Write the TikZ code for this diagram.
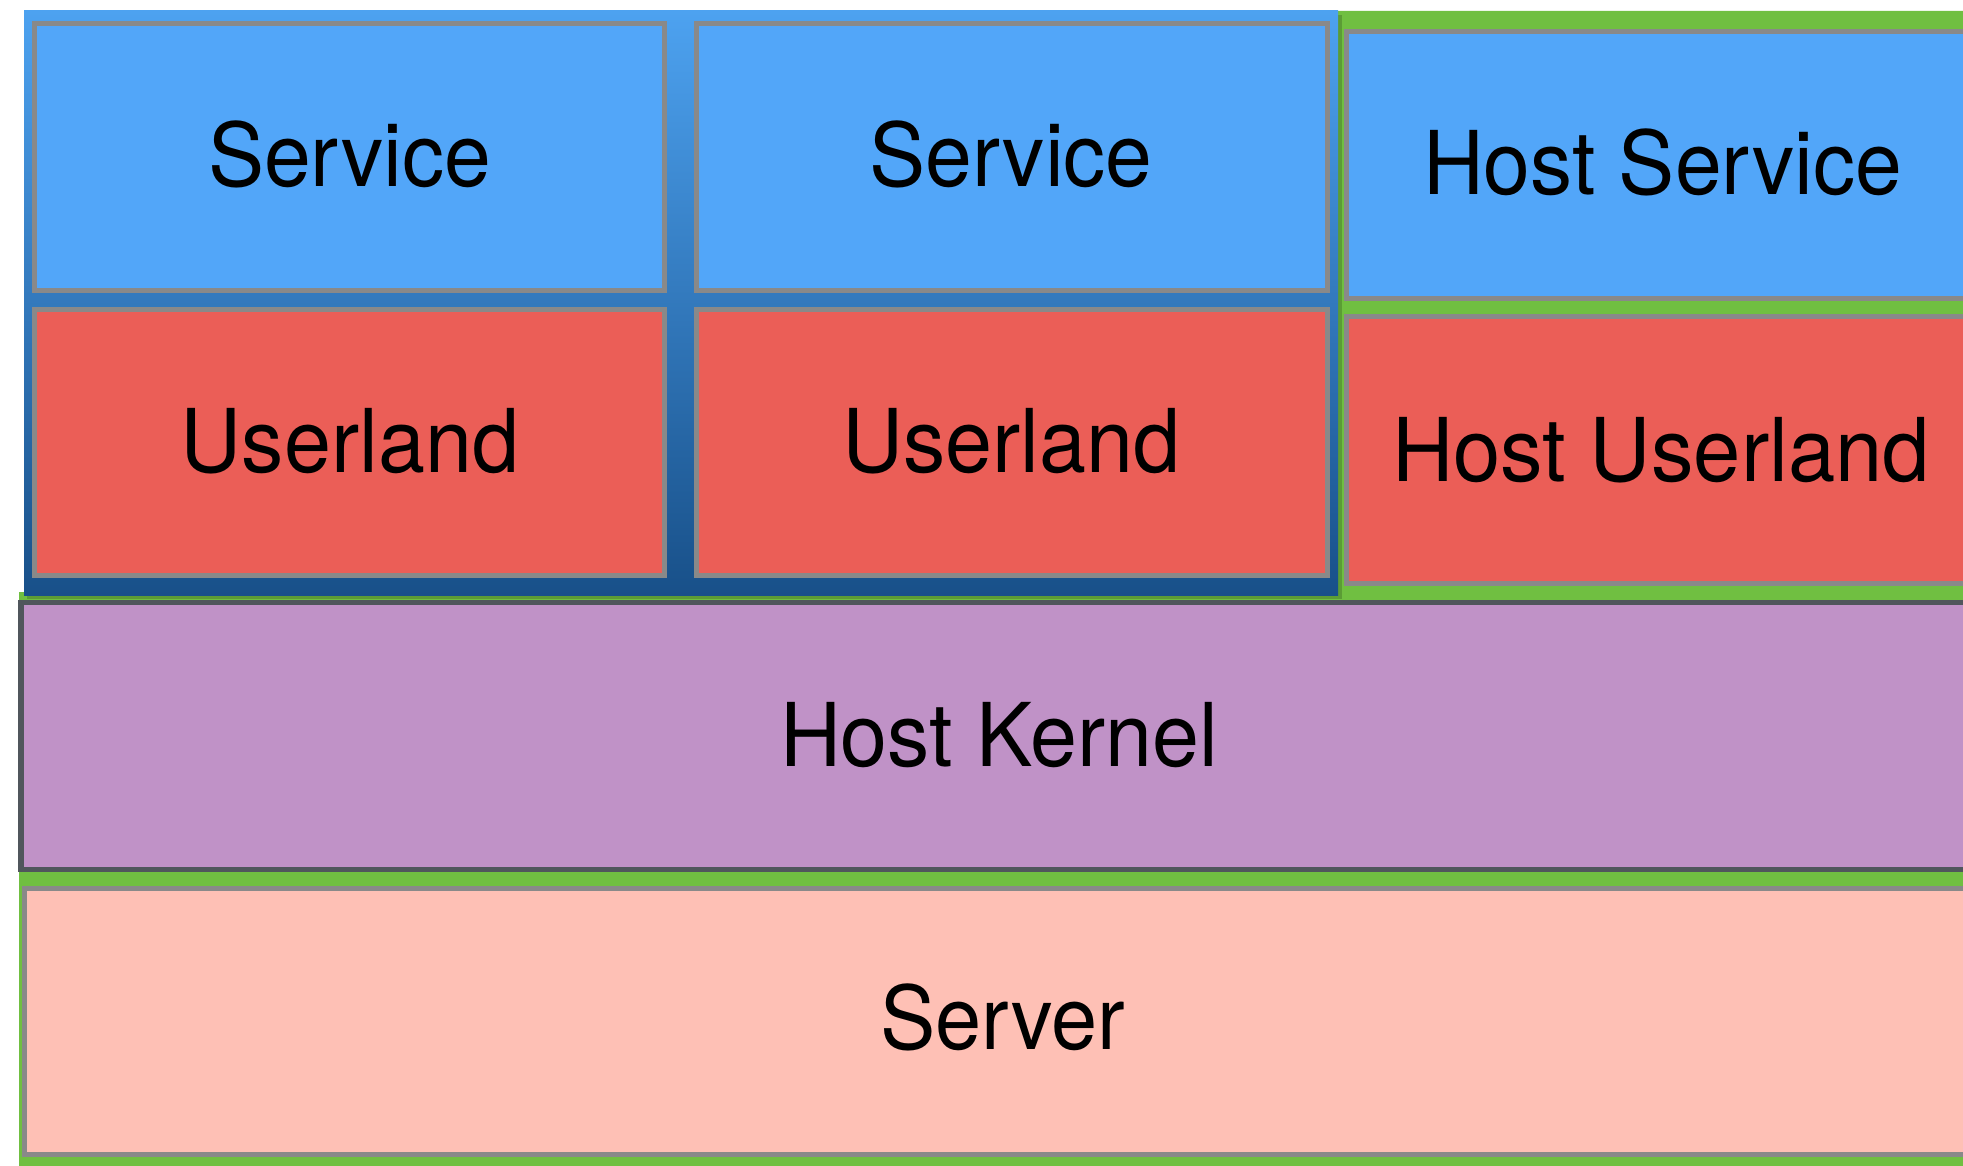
\documentclass[tikz,border=0pt]{standalone}
\usepackage{fontspec}
\setmainfont{TeX Gyre Heros}
\usepackage{graphicx}
\definecolor{svcblue}{HTML}{52A6F9}
\definecolor{userred}{HTML}{EB5E57}
\definecolor{boxgray}{HTML}{898989}
\definecolor{hostgreen}{HTML}{70BF41}
\definecolor{kernfill}{HTML}{C092C7}
\definecolor{kernedge}{HTML}{50565C}
\definecolor{servfill}{HTML}{FEC0B5}
\definecolor{contop}{HTML}{4DA2F0}
\definecolor{conbot}{HTML}{185089}
\newcommand\pxlabel[2]{\resizebox{#1pt}{\height}{#2}}
\tikzset{
  layerbox/.style={draw=boxgray, line width=2.5pt},
  svcbox/.style={layerbox, fill=svcblue},
  userbox/.style={layerbox, fill=userred},
  kernbox/.style={draw=kernedge, line width=2.75pt, fill=kernfill},
  servbox/.style={layerbox, fill=servfill},
  lbl/.style={inner sep=0pt, anchor=base, font=\fontsize{44}{50}\selectfont, text=black}
}
\begin{document}
\begin{tikzpicture}[x=0.5pt, y=-0.5pt]
\useasboundingbox (0,0) rectangle (1963,1166);
\clip (0,0) rectangle (1963,1166);
\fill[white] (0,0) rectangle (1963,1166);
% green host area
\fill[hostgreen] (19,592) -- (1338,592) -- (1338,11) -- (2000,11) -- (2000,1200) -- (19,1200) -- cycle;
% container shadow and container
\fill[black, opacity=0.18] (27,15) rectangle (1342,599);
\shade[top color=contop, bottom color=conbot] (24,11) rectangle (1338,595);
% container boxes
\draw[svcbox] (34.5,23.5) rectangle (664.5,290);
\draw[svcbox] (696.5,23.5) rectangle (1327,290);
\draw[userbox] (34.5,309) rectangle (664.5,575.5);
\draw[userbox] (696.5,309) rectangle (1327,575.5);
% host boxes
\draw[svcbox] (1346.5,31.5) rectangle (2000,298);
\draw[userbox] (1346.5,316.5) rectangle (2000,583.5);
\draw[kernbox] (21,602.5) rectangle (2000,869.5);
\draw[servbox] (24,888) rectangle (2000,1154.5);
% labels
\node[lbl] (svc1) at (349.5,187) {\pxlabel{141.5}{Service}};
\node[lbl] (svc2) at (1011,187) {\pxlabel{141.5}{Service}};
\node[lbl] (usr1) at (350,472) {\pxlabel{169}{Userland}};
\node[lbl] (usr2) at (1011,472) {\pxlabel{169}{Userland}};
\node[lbl] (hsvc) at (1662.5,195) {\pxlabel{239.5}{Host Service}};
\node[lbl] (husr) at (1661,481) {\pxlabel{269}{Host Userland}};
\node[lbl] (hkern) at (999,766) {\pxlabel{219}{Host Kernel}};
\node[lbl] (srv) at (1002.5,1049) {\pxlabel{122.5}{Server}};
\end{tikzpicture}
\end{document}
